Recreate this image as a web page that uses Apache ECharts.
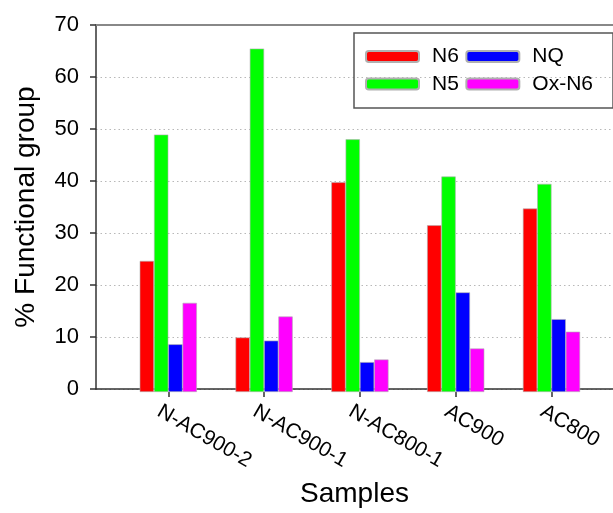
<!DOCTYPE html>
<html>
<head>
<meta charset="utf-8">
<script src="https://cdn.jsdelivr.net/npm/echarts@6/dist/echarts.min.js"></script>
<style>
html,body{margin:0;padding:0;background:#fff;}
#chart{width:613px;height:513px;}
</style>
</head>
<body>
<div id="chart"></div>
<script>
var categories = ['N-AC900-2', 'N-AC900-1', 'N-AC800-1', 'AC900', 'AC800'];
var seriesNames = ['N6', 'N5', 'NQ', 'Ox-N6'];
var n6 = [25.0, 10.4, 40.0, 31.8, 35.0];
var n5 = [49.1, 65.5, 48.2, 41.1, 39.7];
var nq = [9.1, 9.8, 5.7, 19.0, 13.9];
var oxn6 = [17.0, 14.4, 6.2, 8.3, 11.5];
var yTicks = [0, 10, 20, 30, 40, 50, 60, 70];

var colors = ['#ff0000', '#00ff00', '#0000ff', '#ff00ff'];
var values = [n6, n5, nq, oxn6];
var FONT = 'Liberation Sans, Arial, sans-serif';

var chart = echarts.init(document.getElementById('chart'), null, {renderer: 'canvas'});

var series = seriesNames.map(function (name, i) {
  return {
    name: name,
    type: 'bar',
    xAxisIndex: 1,
    yAxisIndex: 1,
    data: values[i],
    barWidth: 14.3,
    barGap: '0%',
    itemStyle: {color: colors[i], borderColor: '#b0b0b0', borderWidth: 0.6},
    emphasis: {disabled: true},
    animation: false
  };
});

var option = {
  animation: false,
  textStyle: {fontFamily: FONT},
  legend: {
    data: ['N6', 'NQ', 'N5', 'Ox-N6'],
    left: 354,
    top: 33,
    width: 255,
    orient: 'horizontal',
    itemWidth: 53,
    itemHeight: 11,
    itemGap: 6.5,
    padding: [13, 20, 13.5, 11],
    borderColor: '#555',
    borderWidth: 1.5,
    textStyle: {fontSize: 21, color: '#000', fontFamily: FONT, padding: [0, 12, 0, 8]},
    selectedMode: false
  },
  grid: [
    {left: 96, top: 25, width: 522, height: 367, containLabel: false},
    {left: 120.4, top: 25, width: 479, height: 367, containLabel: false},
    {left: 111, top: 25, width: 479, height: 367, containLabel: false}
  ],
  xAxis: [
    {
      gridIndex: 0, type: 'value', min: 0, max: 1, position: 'bottom',
      axisLine: {show: true, lineStyle: {color: '#333', width: 1.5}},
      axisTick: {show: false}, axisLabel: {show: false}, splitLine: {show: false},
      name: 'Samples', nameLocation: 'middle', nameGap: 91,
      nameTextStyle: {fontSize: 28, color: '#000', fontFamily: FONT}
    },
    {
      gridIndex: 1, type: 'category', data: categories, boundaryGap: true,
      axisLine: {show: false},
      axisTick: {show: true, alignWithLabel: true, length: 5, lineStyle: {color: '#333', width: 1.5}},
      axisLabel: {show: false}, splitLine: {show: false}
    },
    {
      gridIndex: 2, type: 'category', data: categories, boundaryGap: true,
      axisLine: {show: false}, axisTick: {show: false},
      axisLabel: {show: true, rotate: -30, margin: 18, interval: 0, fontSize: 21, color: '#000', fontFamily: FONT},
      splitLine: {show: false}
    },
    {
      gridIndex: 0, type: 'value', min: 0, max: 1, position: 'top',
      axisLine: {show: true, lineStyle: {color: '#888', width: 2}},
      axisTick: {show: false}, axisLabel: {show: false}, splitLine: {show: false}
    }
  ],
  yAxis: [
    {
      gridIndex: 0, type: 'value', min: yTicks[0], max: yTicks[yTicks.length - 1], interval: 10,
      axisLine: {show: true, lineStyle: {color: '#333', width: 1.5}},
      axisTick: {show: true, inside: false, length: 6, lineStyle: {color: '#333', width: 1.5}},
      axisLabel: {show: true, margin: 17, fontSize: 22, color: '#000', fontFamily: FONT},
      splitLine: {show: true, lineStyle: {color: '#b8b8b8', width: 1, type: [1.5, 3]}},
      name: '% Functional group', nameLocation: 'middle', nameRotate: 90, nameGap: 56,
      nameTextStyle: {fontSize: 28, color: '#000', fontFamily: FONT}
    },
    {
      gridIndex: 1, type: 'value', min: 0, max: 70, show: false, splitLine: {show: false}
    },
    {
      gridIndex: 2, type: 'value', min: 0, max: 70, show: false, splitLine: {show: false}
    }
  ],
  series: series
};

chart.setOption(option);
</script>
</body>
</html>
